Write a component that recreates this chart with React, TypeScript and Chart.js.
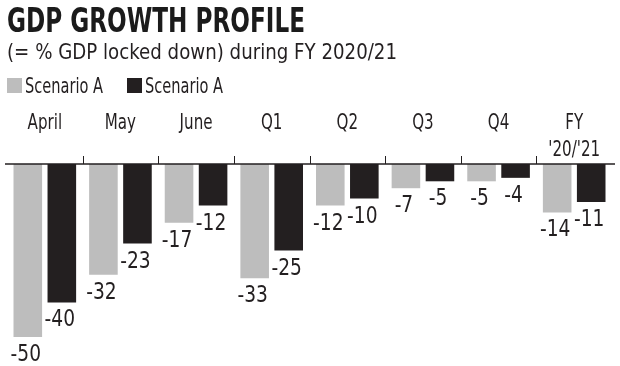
import React, { useEffect, useRef } from "react";
import { Chart, registerables } from "chart.js";

Chart.register(...registerables);

const titleText = "GDP GROWTH PROFILE";
const subtitleText = "(= % GDP locked down) during FY 2020/21";
const categories: string[][] = [["April"], ["May"], ["June"], ["Q1"], ["Q2"], ["Q3"], ["Q4"], ["FY", "'20/'21"]];
const seriesNames = ["Scenario A", "Scenario A"];
const seriesLight = [-50, -32, -17, -33, -12, -7, -5, -14];
const seriesDark = [-40, -23, -12, -25, -10, -5, -4, -11];
const yMin = -50;
const yMax = 0;

const LIGHT = "#bdbdbd";
const DARK = "#231f20";
const TEXT = "#231f20";
const NARROW = '"Liberation Sans Narrow", "DejaVu Sans Condensed", "Roboto Condensed", "Liberation Sans", sans-serif';

function fitText(ctx: CanvasRenderingContext2D, text: string, x: number, y: number, width: number) {
  const w = ctx.measureText(text).width;
  const sx = w > 0 ? width / w : 1;
  ctx.save();
  ctx.translate(x, y);
  ctx.scale(sx, 1);
  ctx.textAlign = "left";
  ctx.fillText(text, 0, 0);
  ctx.restore();
}

function scaledCentered(ctx: CanvasRenderingContext2D, text: string, x: number, y: number, sx: number) {
  ctx.save();
  ctx.translate(x, y);
  ctx.scale(sx, 1);
  ctx.textAlign = "center";
  ctx.fillText(text, 0, 0);
  ctx.restore();
}

const decorPlugin = {
  id: "decor",
  afterDatasetsDraw(chart: any) {
    const ctx: CanvasRenderingContext2D = chart.ctx;
    const xs = chart.scales.x;
    const ys = chart.scales.y;
    const area = chart.chartArea;
    const y0 = ys.getPixelForValue(0);
    ctx.save();
    // header
    ctx.fillStyle = "#1b1b1b";
    ctx.textBaseline = "alphabetic";
    ctx.font = `bold 34px ${NARROW}`;
    fitText(ctx, titleText, 7, 32, 298);
    ctx.fillStyle = TEXT;
    ctx.font = `21px ${NARROW}`;
    fitText(ctx, subtitleText, 7, 59, 390);
    // legend
    const legendColors = [LIGHT, DARK];
    const legendX = [7, 127];
    ctx.font = `22px ${NARROW}`;
    seriesNames.forEach((name, i) => {
      ctx.fillStyle = legendColors[i];
      ctx.fillRect(legendX[i], 78, 15, 15);
      ctx.fillStyle = TEXT;
      fitText(ctx, name, legendX[i] + 18, 93, 78);
    });
    // axis line
    ctx.strokeStyle = TEXT;
    ctx.lineWidth = 1.5;
    ctx.beginPath();
    ctx.moveTo(area.left - 2, y0);
    ctx.lineTo(area.right + 3, y0);
    ctx.stroke();
    // dividers
    ctx.lineWidth = 1;
    for (let i = 1; i < categories.length; i++) {
      const xd = Math.round((xs.getPixelForValue(i - 1) + xs.getPixelForValue(i)) / 2) + 0.5;
      ctx.beginPath();
      ctx.moveTo(xd, y0);
      ctx.lineTo(xd, y0 - 8);
      ctx.stroke();
    }
    // category labels
    ctx.fillStyle = TEXT;
    ctx.font = `21px ${NARROW}`;
    categories.forEach((lines, i) => {
      const cx = xs.getPixelForValue(i);
      lines.forEach((ln, j) => {
        scaledCentered(ctx, ln, cx, y0 - 35 + j * 27, 0.8);
      });
    });
    // value labels
    ctx.font = `23px ${NARROW}`;
    chart.data.datasets.forEach((ds: any, di: number) => {
      const meta = chart.getDatasetMeta(di);
      meta.data.forEach((el: any, i: number) => {
        scaledCentered(ctx, String(ds.data[i]), el.x - 2, el.y + 24, 0.9);
      });
    });
    ctx.restore();
  },
};

export default function App() {
  const ref = useRef<HTMLCanvasElement | null>(null);
  useEffect(() => {
    if (!ref.current) return;
    const chart = new Chart(ref.current, {
      type: "bar",
      data: {
        labels: categories,
        datasets: [
          { label: seriesNames[0], data: seriesLight, backgroundColor: LIGHT, categoryPercentage: 0.9, barPercentage: 0.84, borderWidth: 0 },
          { label: seriesNames[1], data: seriesDark, backgroundColor: DARK, categoryPercentage: 0.9, barPercentage: 0.84, borderWidth: 0 },
        ],
      },
      options: {
        responsive: false,
        animation: false,
        devicePixelRatio: 1,
        layout: { padding: { top: 164, left: 7, right: 8, bottom: 29 } },
        scales: {
          x: { type: "category", display: false, offset: true },
          y: { display: false, min: yMin, max: yMax },
        },
        plugins: { legend: { display: false }, tooltip: { enabled: false }, title: { display: false } },
      },
      plugins: [decorPlugin],
    });
    return () => chart.destroy();
  }, []);
  return (
    <div style={{ position: "absolute", left: 0, top: 0, width: 620, height: 366, background: "#fff" }}>
      <canvas ref={ref} width={620} height={366} style={{ display: "block", width: 620, height: 366 }} />
    </div>
  );
}
